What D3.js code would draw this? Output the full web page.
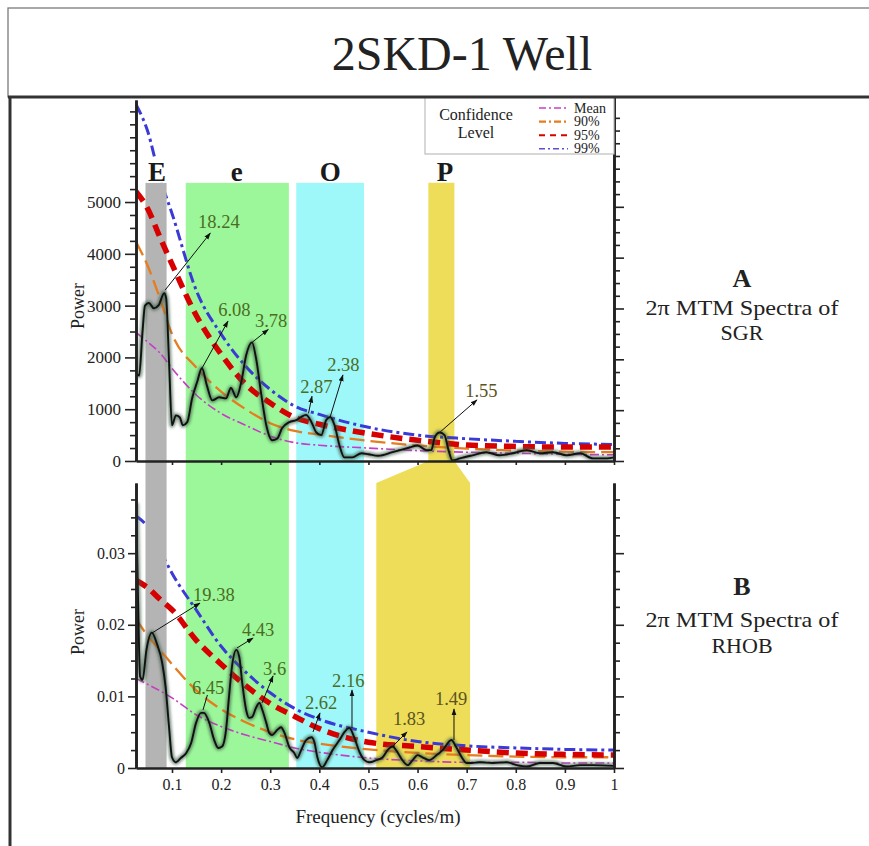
<!DOCTYPE html>
<html><head><meta charset="utf-8">
<script src="https://cdn.jsdelivr.net/npm/d3@7"></script>
<style>
body{margin:0;background:#fff}
svg{display:block}
text{font-family:"Liberation Serif","Times New Roman",serif}
</style>
</head><body>
<svg id="c" width="869" height="846" font-family="Liberation Serif, Times New Roman, serif"></svg>
<script>
// ---------------- DATA ----------------
const titleText = "2SKD-1 Well";

// Panel A: SGR spectrum
const freqA = [0.027,0.033,0.040,0.045,0.053,0.063,0.073,0.084,0.088,0.094,0.100,0.108,0.116,0.122,0.131,0.141,0.151,0.161,0.171,0.182,0.196,0.210,0.220,0.231,0.241,0.251,0.263,0.271,0.282,0.292,0.304,0.314,0.324,0.339,0.353,0.363,0.373,0.384,0.394,0.404,0.414,0.422,0.431,0.441,0.451,0.467,0.486,0.500,0.520,0.549,0.584,0.600,0.618,0.628,0.635,0.645,0.655,0.663,0.671,0.686,0.712,0.740,0.767,0.794,0.822,0.849,0.876,0.904,0.931,0.957,0.986,1.000];
const powerA = [1700,1650,2500,3000,3050,2950,3010,3240,3150,1910,690,880,840,690,750,1210,1520,1790,1460,1170,1230,1210,1410,1230,1520,2040,2290,1990,1270,690,400,430,630,750,790,850,890,750,550,500,790,850,690,300,70,70,150,130,100,170,260,300,210,210,460,550,500,210,10,50,110,170,110,150,210,150,170,110,150,50,50,70];

// Panel B: RHOB spectrum
const freqB = [0.027,0.031,0.035,0.040,0.048,0.059,0.069,0.080,0.087,0.094,0.100,0.108,0.118,0.129,0.139,0.149,0.159,0.165,0.176,0.186,0.194,0.202,0.210,0.216,0.222,0.231,0.237,0.243,0.251,0.257,0.263,0.271,0.278,0.284,0.292,0.298,0.304,0.314,0.322,0.329,0.339,0.349,0.355,0.363,0.373,0.384,0.390,0.396,0.406,0.416,0.427,0.441,0.451,0.461,0.471,0.482,0.492,0.502,0.516,0.529,0.539,0.549,0.559,0.569,0.580,0.590,0.600,0.610,0.624,0.639,0.651,0.669,0.678,0.690,0.700,0.710,0.727,0.753,0.782,0.802,0.822,0.849,0.876,0.904,0.931,0.957,1.000];
const powerB = [0.0370,0.0230,0.0128,0.0123,0.0165,0.0189,0.0174,0.0147,0.0113,0.0057,0.0015,0.0008,0.0014,0.0021,0.0035,0.0063,0.0077,0.0077,0.0063,0.0039,0.0028,0.0030,0.0053,0.0099,0.0141,0.0165,0.0155,0.0119,0.0081,0.0070,0.0071,0.0084,0.0091,0.0081,0.0063,0.0049,0.0046,0.0053,0.0057,0.0049,0.0029,0.0021,0.0014,0.0025,0.0039,0.0043,0.0036,0.0015,0.0001,0.0011,0.0025,0.0039,0.0050,0.0056,0.0043,0.0022,0.0011,0.0008,0.0011,0.0015,0.0025,0.0030,0.0022,0.0011,0.0004,0.0011,0.0018,0.0015,0.0011,0.0018,0.0025,0.0039,0.0030,0.0015,0.0007,0.0007,0.0008,0.0007,0.0008,0.0004,0.0002,0.0007,0.0007,0.0002,0.0004,0.0004,0.0003];

// Confidence levels (sampled at confFreq)
const confFreq = [0.027,0.05,0.075,0.1,0.15,0.2,0.25,0.3,0.35,0.4,0.5,0.6,0.7,0.8,0.9,1.0];
const meanA = [2480,2300,2090,1790,1270,920,690,480,355,305,250,200,170,150,130,120];
const c90A  = [4230,3780,3150,2450,1800,1340,1000,730,580,510,390,300,240,200,180,170];
const c95A  = [5200,4880,4330,3800,2800,2060,1480,1120,840,710,530,400,310,280,270,270];
const c99A  = [6880,6380,5480,4780,3280,2450,1830,1380,1060,900,650,500,430,380,340,320];
const meanB = [0.0125,0.0117,0.0108,0.0098,0.0074,0.0058,0.0046,0.0037,0.0028,0.0022,0.0014,0.0010,0.0008,0.0008,0.0007,0.0007];
const c90B  = [0.0208,0.0185,0.0165,0.0145,0.0108,0.0082,0.0064,0.0050,0.0040,0.0034,0.0026,0.0021,0.0018,0.0016,0.0015,0.0015];
const c95B  = [0.0262,0.0252,0.0236,0.0221,0.0178,0.0145,0.0115,0.0090,0.0072,0.0055,0.0036,0.0030,0.0025,0.0021,0.0019,0.0018];
const c99B  = [0.0352,0.0337,0.0305,0.0272,0.0220,0.0170,0.0134,0.0105,0.0083,0.0068,0.0050,0.0037,0.0031,0.0028,0.0026,0.0025];

// Legend
const legendTitle = ["Confidence","Level"];
const legendLabels = ["Mean","90%","95%","99%"];
const legendColors = ["#cc3ccc","#e67c1e","#d90000","#5a4fd0"];

// Frequency bands
const bandNames = ["E","e","O"];
const bandStart = [0.046,0.128,0.353];
const bandEnd   = [0.089,0.338,0.491];
const bandColors = ["#b4b4b4","#9cf79a","#9ef8fa"];
const bandLabelF = [0.0695,0.232,0.422];
const bandTopA = 5370, bandLabelA = 5410;
// P band: narrow in panel A, wide in panel B
const pName = "P", pLabelF = 0.656;
const pStartA = 0.622, pEndA = 0.675, pStartB = 0.516, pEndB = 0.707;
const pColor = "#eddd58";

// Annotations panel A
const annA_label = ["18.24","6.08","3.78","2.87","2.38","1.55"];
const annA_textF = [0.153,0.194,0.269,0.361,0.416,0.697];
const annA_textP = [4500,2800,2590,1310,1740,1240];
const annA_fromF = [0.086,0.161,0.263,0.378,0.422,0.646];
const annA_fromP = [3300,1790,2290,920,850,560];
const annA_toF   = [0.178,0.214,0.296,0.385,0.448,0.721];
const annA_toP   = [4400,2700,2540,1250,1660,1180];
const annA_brown = [0,0,0,0,0,1];
// Annotations panel B
const annB_label = ["19.38","4.43","3.6","6.45","2.62","2.16","1.83","1.49"];
const annB_textF = [0.1428,0.2425,0.2853,0.1407,0.3708,0.4258,0.550,0.6355];
const annB_textP = [0.02332,0.01843,0.01299,0.01033,0.00824,0.01131,0.0060,0.0088];
const annB_fromF = [0.0593,0.2323,0.2833,0.1631,0.3871,0.4665,0.550,0.6742];
const annB_fromP = [0.01885,0.01676,0.00908,0.0081,0.00503,0.00559,0.00307,0.00391];
const annB_toF   = [0.157,0.265,0.3057,0.1721,0.4013,0.4665,0.5785,0.6742];
const annB_toP   = [0.02304,0.01815,0.01285,0.0102,0.00768,0.01089,0.00503,0.00824];
const annB_head  = [1,1,1,0,1,1,1,1];
const annB_brown = [0,0,0,0,0,0,1,1];

// Axis ticks
const xTicks = [0.1,0.2,0.3,0.4,0.5,0.6,0.7,0.8,0.9,1];
const yTicksA = [0,1000,2000,3000,4000,5000];
const yMinorA = d3.range(250,7000,250).filter(v => !(v % 1000 === 0 && v <= 5000));
const yTicksB = [0,0.01,0.02,0.03];
const yMinorB = [0.0025,0.005,0.0075,0.0125,0.015,0.0175,0.0225,0.025,0.0275,0.0325,0.035,0.0375];

// Side captions
const sideTitles = ["A","B"];
const sideLines = [["2\u03c0 MTM Spectra of","SGR"],["2\u03c0 MTM Spectra of","RHOB"]];

// ---------------- DRAW ----------------
const svg = d3.select("#c");
const defs = svg.append("defs");
defs.append("filter").attr("id","glow").attr("x","-5%").attr("y","-5%").attr("width","110%").attr("height","110%")
  .append("feGaussianBlur").attr("stdDeviation",1.5);
defs.append("marker").attr("id","arr").attr("viewBox","0 0 10 10").attr("refX",9).attr("refY",5)
  .attr("markerWidth",7).attr("markerHeight",7).attr("orient","auto")
  .append("path").attr("d","M0,1.5 L10,5 L0,8.5 Z").attr("fill","#111");

const x = d3.scaleLinear().domain([0.0267,1]).range([136,614]);
const yA = d3.scaleLinear().domain([0,6970]).range([461,100]);
const yB = d3.scaleLinear().domain([0,0.0398]).range([768,483]);

// frame
svg.append("rect").attr("x",8).attr("y",8).attr("width",880).attr("height",89)
  .attr("fill","none").attr("stroke","#7a7a7a").attr("stroke-width",1.3);
svg.append("text").attr("x",462).attr("y",70).attr("text-anchor","middle")
  .attr("font-size",48).attr("fill","#222").text(titleText);

// clip paths
defs.append("clipPath").attr("id","clipA").append("rect").attr("x",136).attr("y",98).attr("width",478).attr("height",363);
defs.append("clipPath").attr("id","clipB").append("rect").attr("x",136).attr("y",483).attr("width",478).attr("height",285);

// bands (grey band drawn above the 99% line)
const gBands = svg.append("g");
const gBlue = svg.append("g");
const gGrey = svg.append("g");
bandNames.forEach((n,i) => {
  const tgt = i === 0 ? gGrey : gBands;
  tgt.append("rect").attr("x",x(bandStart[i])).attr("y",yA(bandTopA))
    .attr("width",x(bandEnd[i]) - x(bandStart[i])).attr("height",yB(0) - yA(bandTopA))
    .attr("fill",bandColors[i]);
});
const pPoly = [
  [x(pStartA),yA(bandTopA)],[x(pEndA),yA(bandTopA)],[x(pEndA),yA(0)],
  [x(pEndB),yB(0.0398)],[x(pEndB),yB(0)],[x(pStartB),yB(0)],[x(pStartB),yB(0.0398)],[x(pStartA),yA(0)]
];
gBands.append("polygon").attr("points",pPoly.map(p=>p.join(",")).join(" ")).attr("fill",pColor);

// confidence lines
const styles = {
  mean:{c:"#c83cc8",w:1.6,d:"9,3,2,3"},
  c90:{c:"#e67c1e",w:2.3,d:"15,6"},
  c95:{c:"#d60000",w:5.5,d:"12,7"},
  c99:{c:"#3a3ad6",w:3,d:"11,4,3,4"}
};
function confLine(g, ys, vals, st, clip) {
  const line = d3.line().x((d,i)=>x(confFreq[i])).y(d=>ys(d)).curve(d3.curveMonotoneX);
  g.append("path").datum(vals).attr("d",line).attr("fill","none")
    .attr("stroke",st.c).attr("stroke-width",st.w).attr("stroke-dasharray",st.d)
    .attr("clip-path",`url(#${clip})`);
}
confLine(gBlue, yA, c99A, styles.c99, "clipA");
confLine(gBlue, yB, c99B, styles.c99, "clipB");

// band labels (E gets a white backing like the reference)
const gLab = svg.append("g");
bandNames.concat([pName]).forEach((n,i) => {
  const f = i < 3 ? bandLabelF[i] : pLabelF;
  const t = gLab.append("text").attr("x",x(f)).attr("y",yA(bandLabelA)).attr("text-anchor","middle")
    .attr("font-size",27).attr("font-weight","bold").attr("fill","#1a1a1a").text(n);
  if (i === 0) {
    const b = t.node().getBBox();
    gLab.insert("rect","text").attr("x",b.x-1).attr("y",b.y+2).attr("width",b.width+2).attr("height",yA(bandTopA)-b.y-2).attr("fill","#fff");
  }
});

const gLines = svg.append("g");
confLine(gLines, yA, meanA, styles.mean, "clipA");
confLine(gLines, yA, c90A, styles.c90, "clipA");
confLine(gLines, yA, c95A, styles.c95, "clipA");
confLine(gLines, yB, meanB, styles.mean, "clipB");
confLine(gLines, yB, c90B, styles.c90, "clipB");
confLine(gLines, yB, c95B, styles.c95, "clipB");

// spectra
function spectrum(fs, ps, ys, clip) {
  const line = d3.line().x((d,i)=>x(fs[i])).y(d=>ys(d)).curve(d3.curveMonotoneX);
  svg.append("path").datum(ps).attr("d",line).attr("fill","none")
    .attr("stroke","#40604a").attr("stroke-width",5).attr("stroke-opacity",0.7)
    .attr("stroke-linejoin","round").attr("filter","url(#glow)").attr("clip-path",`url(#${clip})`);
  svg.append("path").datum(ps).attr("d",line).attr("fill","none")
    .attr("stroke","#111").attr("stroke-width",1.9).attr("stroke-linejoin","round")
    .attr("clip-path",`url(#${clip})`);
}
spectrum(freqA, powerA, yA, "clipA");
spectrum(freqB, powerB, yB, "clipB");

// annotations
const green = "#4b6d1f", brown = "#5c5320";
annA_label.forEach((t,i) => {
  svg.append("line").attr("x1",x(annA_fromF[i])).attr("y1",yA(annA_fromP[i]))
    .attr("x2",x(annA_toF[i])).attr("y2",yA(annA_toP[i]))
    .attr("stroke","#111").attr("stroke-width",1).attr("marker-end","url(#arr)");
  svg.append("text").attr("x",x(annA_textF[i])).attr("y",yA(annA_textP[i]))
    .attr("font-size",18.5).attr("fill",annA_brown[i]?brown:green).text(t);
});
annB_label.forEach((t,i) => {
  const l = svg.append("line").attr("x1",x(annB_fromF[i])).attr("y1",yB(annB_fromP[i]))
    .attr("x2",x(annB_toF[i])).attr("y2",yB(annB_toP[i]))
    .attr("stroke","#111").attr("stroke-width",1);
  if (annB_head[i]) l.attr("marker-end","url(#arr)");
  svg.append("text").attr("x",x(annB_textF[i])).attr("y",yB(annB_textP[i]))
    .attr("font-size",18.5).attr("fill",annB_brown[i]?brown:green).text(t);
});

// axes
function styleAxis(g, fs) {
  g.select(".domain").attr("stroke","#222").attr("stroke-width",2.6);
  g.selectAll(".tick line").attr("stroke","#222").attr("stroke-width",1.6);
  g.selectAll(".tick text").attr("font-family","Liberation Serif, Times New Roman, serif").attr("font-size",fs).attr("fill","#222");
}
// Panel A
svg.append("g").attr("transform","translate(136,0)")
  .call(d3.axisLeft(yA).tickValues(yMinorA).tickSize(6).tickSizeOuter(0).tickFormat(""))
  .call(g=>styleAxis(g,16));
svg.append("g").attr("transform","translate(136,0)")
  .call(d3.axisLeft(yA).tickValues(yTicksA).tickSize(11).tickSizeOuter(0).tickPadding(4).tickFormat(d3.format("d")))
  .call(g=>styleAxis(g,17));
const yAr = d3.scaleLinear().domain([0,7160]).range([461,97]);
svg.append("g").attr("transform","translate(614,0)")
  .call(d3.axisRight(yAr).tickValues(yMinorA).tickSize(6).tickSizeOuter(0).tickFormat(""))
  .call(g=>styleAxis(g,16));
svg.append("g").attr("transform","translate(614,0)")
  .call(d3.axisRight(yAr).tickValues(yTicksA).tickSize(10).tickSizeOuter(0).tickFormat(""))
  .call(g=>styleAxis(g,16));
svg.append("g").attr("transform",`translate(0,${yA(0)})`)
  .call(d3.axisBottom(x).tickValues(xTicks).tickSize(4).tickSizeOuter(0).tickFormat(""))
  .call(g=>styleAxis(g,16));
// Panel B
svg.append("g").attr("transform","translate(136,0)")
  .call(d3.axisLeft(yB).tickValues(yMinorB).tickSize(5).tickSizeOuter(0).tickFormat(""))
  .call(g=>styleAxis(g,16));
svg.append("g").attr("transform","translate(136,0)")
  .call(d3.axisLeft(yB).tickValues(yTicksB).tickSize(8).tickSizeOuter(0).tickPadding(3)
    .tickFormat(d => d === 0 ? "0" : d3.format(".2f")(d)))
  .call(g=>styleAxis(g,16));
svg.append("g").attr("transform","translate(614,0)")
  .call(d3.axisRight(yB).tickValues(yMinorB).tickSize(6).tickSizeOuter(0).tickFormat(""))
  .call(g=>styleAxis(g,16));
svg.append("g").attr("transform","translate(614,0)")
  .call(d3.axisRight(yB).tickValues(yTicksB).tickSize(10).tickSizeOuter(0).tickFormat(""))
  .call(g=>styleAxis(g,16));
svg.append("g").attr("transform",`translate(0,${yB(0)})`)
  .call(d3.axisBottom(x).tickValues(xTicks).tickSize(5).tickSizeOuter(0).tickPadding(6)
    .tickFormat(d => d === 1 ? "1" : d3.format(".1f")(d)))
  .call(g=>styleAxis(g,16));

// axis titles
svg.append("text").attr("transform","translate(84,306) rotate(-90)").attr("text-anchor","middle")
  .attr("font-size",18).attr("fill","#222").text("Power");
svg.append("text").attr("transform","translate(84,632) rotate(-90)").attr("text-anchor","middle")
  .attr("font-size",18).attr("fill","#222").text("Power");
svg.append("text").attr("x",378).attr("y",823).attr("text-anchor","middle")
  .attr("font-size",19).attr("fill","#222").text("Frequency (cycles/m)");

// legend
const lg = svg.append("g");
lg.append("rect").attr("x",425).attr("y",97).attr("width",189).attr("height",57)
  .attr("fill","#fff").attr("stroke","#bdbdbd").attr("stroke-width",1.2);
legendTitle.forEach((t,i) => {
  lg.append("text").attr("x",476).attr("y",120 + i*18).attr("text-anchor","middle")
    .attr("font-size",16).attr("fill","#222").text(t);
});
const legDash = ["7,3,2,3","7,3,2,3","6,5","6,3,2,3"];
const legW = [1.4,2.4,2,1.6];
legendLabels.forEach((t,i) => {
  const yy = 108 + i*13.6;
  lg.append("line").attr("x1",539).attr("x2",568).attr("y1",yy).attr("y2",yy)
    .attr("stroke",legendColors[i]).attr("stroke-width",legW[i]).attr("stroke-dasharray",legDash[i]);
  lg.append("text").attr("x",574).attr("y",yy+4.5).attr("font-size",14).attr("fill","#222").text(t);
});

// side captions
const sideY = [[287,315,340],[595,627,653]];
sideTitles.forEach((s,k) => {
  svg.append("text").attr("x",742).attr("y",sideY[k][0]).attr("text-anchor","middle")
    .attr("font-size",26).attr("font-weight","bold").attr("fill","#222").text(s);
  sideLines[k].forEach((t,j) => {
    const el = svg.append("text").attr("x",742).attr("y",sideY[k][j+1]).attr("text-anchor","middle")
      .attr("font-size",22).attr("fill","#222").text(t);
    if (j === 0) el.attr("textLength",193).attr("lengthAdjust","spacingAndGlyphs");
  });
});

// heavy frame lines
svg.append("line").attr("x1",8).attr("x2",869).attr("y1",97).attr("y2",97).attr("stroke","#333").attr("stroke-width",3);
svg.append("line").attr("x1",10).attr("x2",10).attr("y1",97).attr("y2",846).attr("stroke","#333").attr("stroke-width",3);
</script>
</body></html>
